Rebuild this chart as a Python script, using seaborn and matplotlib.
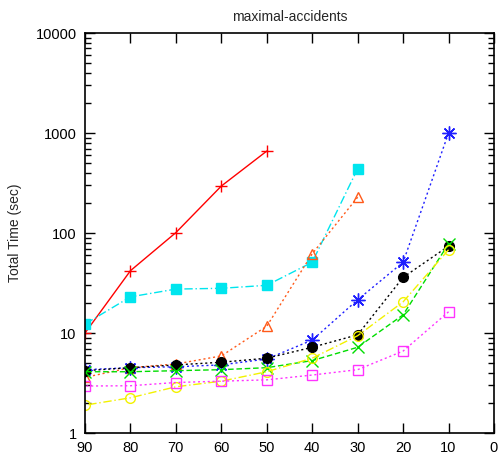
import numpy as np
import pandas as pd
import matplotlib
matplotlib.use("Agg")
import matplotlib.pyplot as plt
from matplotlib.ticker import LogLocator, NullFormatter, FixedLocator
import seaborn as sns

# --- DATA ---
X_ALL = [90, 80, 70, 60, 50, 40, 30, 20, 10]

red_plus = [10, 42, 101, 295, 660]
cyan_square = [12.3, 23, 27.5, 28, 30, 51, 440]
orange_triangle = [3.6, 4.5, 4.9, 5.9, 11.7, 62, 228]
blue_star = [4.3, 4.5, 4.6, 4.8, 5.5, 8.5, 21.5, 51, 1000]
black_circle = [4.2, 4.5, 4.8, 5.1, 5.6, 7.2, 9.6, 36, 74]
green_x = [4.1, 4.1, 4.2, 4.3, 4.5, 5.3, 7.2, 15.2, 78]
yellow_circle = [1.9, 2.25, 2.9, 3.3, 4.1, 5.6, 9.4, 20.5, 68]
magenta_square = [2.95, 2.97, 3.2, 3.3, 3.4, 3.8, 4.3, 6.6, 16.3]

X_TICKS = [90, 80, 70, 60, 50, 40, 30, 20, 10, 0]
Y_TICKS = [1, 10, 100, 1000, 10000]

ASTERISK = (8, 2, 0)  # gnuplot-style "*": + and x on top of each other

# (values, color, marker, linestyle, filled)
SERIES = [
    (red_plus, "#ff0000", "+", "-", True),
    (cyan_square, "#00e5ee", "s", (0, (6, 2, 1, 2)), True),
    (orange_triangle, "#ff5a1a", "^", (0, (1.5, 2)), False),
    (blue_star, "#1f1fff", ASTERISK, (0, (1.5, 2)), True),
    (black_circle, "#000000", "o", (0, (1.5, 2)), True),
    (green_x, "#00dd00", "x", (0, (4, 2)), True),
    (yellow_circle, "#f2f200", "o", (0, (6, 2, 1, 2)), False),
    (magenta_square, "#ff33ff", "s", (0, (1.5, 2)), False),
]

sns.set_style("ticks")
plt.rcParams["font.family"] = ["Liberation Sans", "DejaVu Sans"]

fig = plt.figure(figsize=(5.01, 4.61), dpi=100)
ax = fig.add_axes([0.1697, 0.0607, 0.8163, 0.8677])

for vals, color, marker, ls, filled in SERIES:
    df = pd.DataFrame({"x": X_ALL[:len(vals)], "y": vals})
    kw = dict(markersize=7 if marker in ("o", "s", "^") else 9,
              markeredgewidth=1.0)
    if marker == ASTERISK:
        kw["markersize"] = 10
        kw["markeredgewidth"] = 1.0
    if filled:
        kw["markerfacecolor"] = color
        kw["markeredgecolor"] = color
    else:
        kw["markerfacecolor"] = "none"
        kw["markeredgecolor"] = color
    sns.lineplot(data=df, x="x", y="y", ax=ax, color=color, marker=marker,
                 linestyle=ls, linewidth=1.0, legend=False, **kw)

ax.set_yscale("log")
ax.set_xlim(90, 0)
ax.set_ylim(1, 10000)
ax.xaxis.set_major_locator(FixedLocator(X_TICKS))
ax.yaxis.set_major_locator(FixedLocator(Y_TICKS))
ax.set_yticklabels([str(v) for v in Y_TICKS])
ax.yaxis.set_minor_locator(LogLocator(base=10, subs=np.arange(2, 10)))
ax.yaxis.set_minor_formatter(NullFormatter())

ax.tick_params(which="both", direction="in", top=True, right=True,
               labelsize=10.5, width=1.0, colors="black")
ax.tick_params(which="major", length=7, pad=6)
ax.tick_params(which="minor", length=4)
for s in ax.spines.values():
    s.set_visible(True)
    s.set_linewidth(1.2)
    s.set_color("black")

ax.set_xlabel("")
ax.set_ylabel("Total Time (sec)", fontsize=10, labelpad=10)
ax.set_title("maximal-accidents", fontsize=10, pad=9)

fig.savefig("out.png", dpi=100)
